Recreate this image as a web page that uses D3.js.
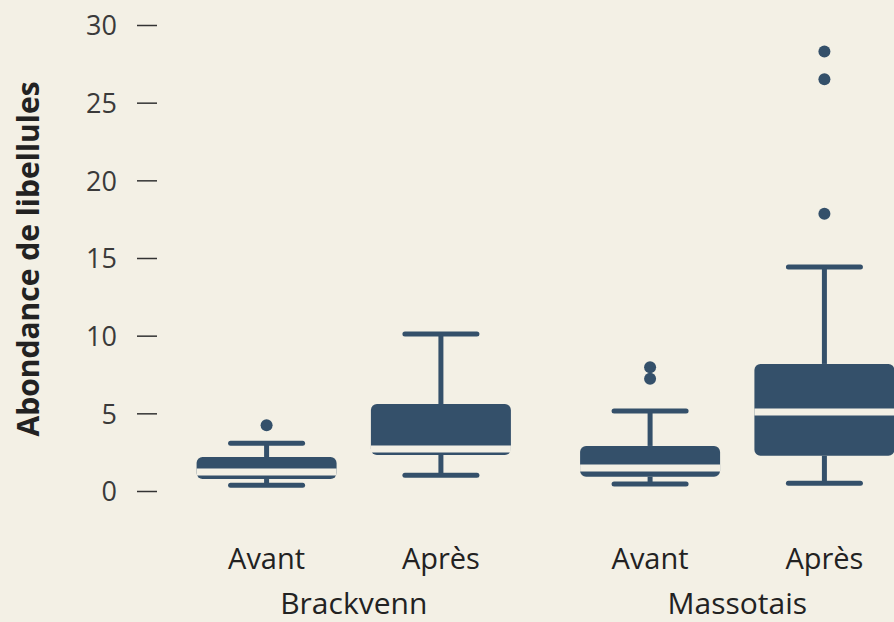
<!DOCTYPE html>
<html>
<head>
<meta charset="utf-8">
<script src="https://cdn.jsdelivr.net/npm/d3@7"></script>
<style>
  body { margin: 0; background: #f3f0e5; }
  svg { display: block; }
  text { font-family: "Open Sans", "Noto Sans", sans-serif; }
</style>
</head>
<body>
<div id="chart"></div>
<script>
// data
const sites = ["Brackvenn", "Massotais"];
const periods = ["Avant", "Après"];
const yTicks = [0, 5, 10, 15, 20, 25, 30];

// one entry per box, in order site x period
const boxSite   = ["Brackvenn", "Brackvenn", "Massotais", "Massotais"];
const boxPeriod = ["Avant", "Après", "Avant", "Après"];
const whiskerLow  = [0.37, 1.01, 0.45, 0.5];
const q1          = [0.77, 2.32, 0.92, 2.27];
const median      = [1.22, 2.7, 1.48, 5.09];
const q3          = [2.19, 5.6, 2.9, 8.18];
const whiskerHigh = [3.07, 10.1, 5.15, 14.42];
const outliers    = [[4.23], [], [7.23, 7.96], [17.85, 26.5, 28.3]];

const W = 894, H = 622;
const ink = "#34506a";
const bg = "#f3f0e5";

const svg = d3.select("#chart")
    .append("svg")
    .attr("width", W)
    .attr("height", H);

svg.append("rect").attr("width", W).attr("height", H).attr("fill", bg);

const y = d3.scaleLinear()
    .domain([0, 30])
    .range([491, 25]);

const xSite = d3.scaleBand()
    .domain(sites)
    .range([162, 929])
    .padding(0);

const xPeriod = d3.scalePoint()
    .domain(periods)
    .range([0, xSite.bandwidth()])
    .padding(0.6);

const cx = i => xSite(boxSite[i]) + xPeriod(boxPeriod[i]);

const boxW = 140, capW = 72;

// y axis
const yAxis = svg.append("g")
    .attr("transform", "translate(157,0)")
    .call(d3.axisLeft(y).tickValues(yTicks).tickSize(20).tickPadding(20));
yAxis.select(".domain").remove();
yAxis.selectAll(".tick line").attr("stroke", "#333").attr("stroke-width", 1.5);
yAxis.selectAll(".tick text")
    .attr("fill", "#3a3a3a")
    .style("font-size", "27px")
    .attr("dy", "0.36em");

svg.append("text")
    .attr("transform", "translate(39,259) rotate(-90)")
    .attr("text-anchor", "middle")
    .attr("fill", "#222")
    .style("font-size", "30px")
    .style("font-weight", 700)
    .text("Abondance de libellules");

// boxes
const idx = d3.range(boxSite.length);
const g = svg.append("g");

idx.forEach(i => {
    const x = cx(i);
    // whisker stems
    g.append("line")
        .attr("x1", x).attr("x2", x)
        .attr("y1", y(whiskerHigh[i])).attr("y2", y(q3[i]))
        .attr("stroke", ink).attr("stroke-width", 5);
    g.append("line")
        .attr("x1", x).attr("x2", x)
        .attr("y1", y(whiskerLow[i])).attr("y2", y(q1[i]))
        .attr("stroke", ink).attr("stroke-width", 5);
    // caps
    [whiskerHigh[i], whiskerLow[i]].forEach(v => {
        g.append("line")
            .attr("x1", x - capW / 2).attr("x2", x + capW / 2)
            .attr("y1", y(v)).attr("y2", y(v))
            .attr("stroke", ink).attr("stroke-width", 5)
            .attr("stroke-linecap", "round");
    });
    // box
    g.append("rect")
        .attr("x", x - boxW / 2)
        .attr("width", boxW)
        .attr("y", y(q3[i]))
        .attr("height", y(q1[i]) - y(q3[i]))
        .attr("rx", 6)
        .attr("fill", ink);
    // median gap
    g.append("line")
        .attr("x1", x - boxW / 2).attr("x2", x + boxW / 2)
        .attr("y1", y(median[i])).attr("y2", y(median[i]))
        .attr("stroke", bg).attr("stroke-width", 7);
    // outliers
    g.selectAll(null)
        .data(outliers[i])
        .join("circle")
        .attr("cx", x)
        .attr("cy", d => y(d))
        .attr("r", 6)
        .attr("fill", ink);
});

// x labels
idx.forEach(i => {
    svg.append("text")
        .attr("x", cx(i))
        .attr("y", 569)
        .attr("text-anchor", "middle")
        .attr("fill", "#222")
        .style("font-size", "29px")
        .text(boxPeriod[i]);
});

sites.forEach(s => {
    svg.append("text")
        .attr("x", xSite(s) + xSite.bandwidth() / 2)
        .attr("y", 614)
        .attr("text-anchor", "middle")
        .attr("fill", "#222")
        .style("font-size", "30px")
        .text(s);
});
</script>
</body>
</html>
